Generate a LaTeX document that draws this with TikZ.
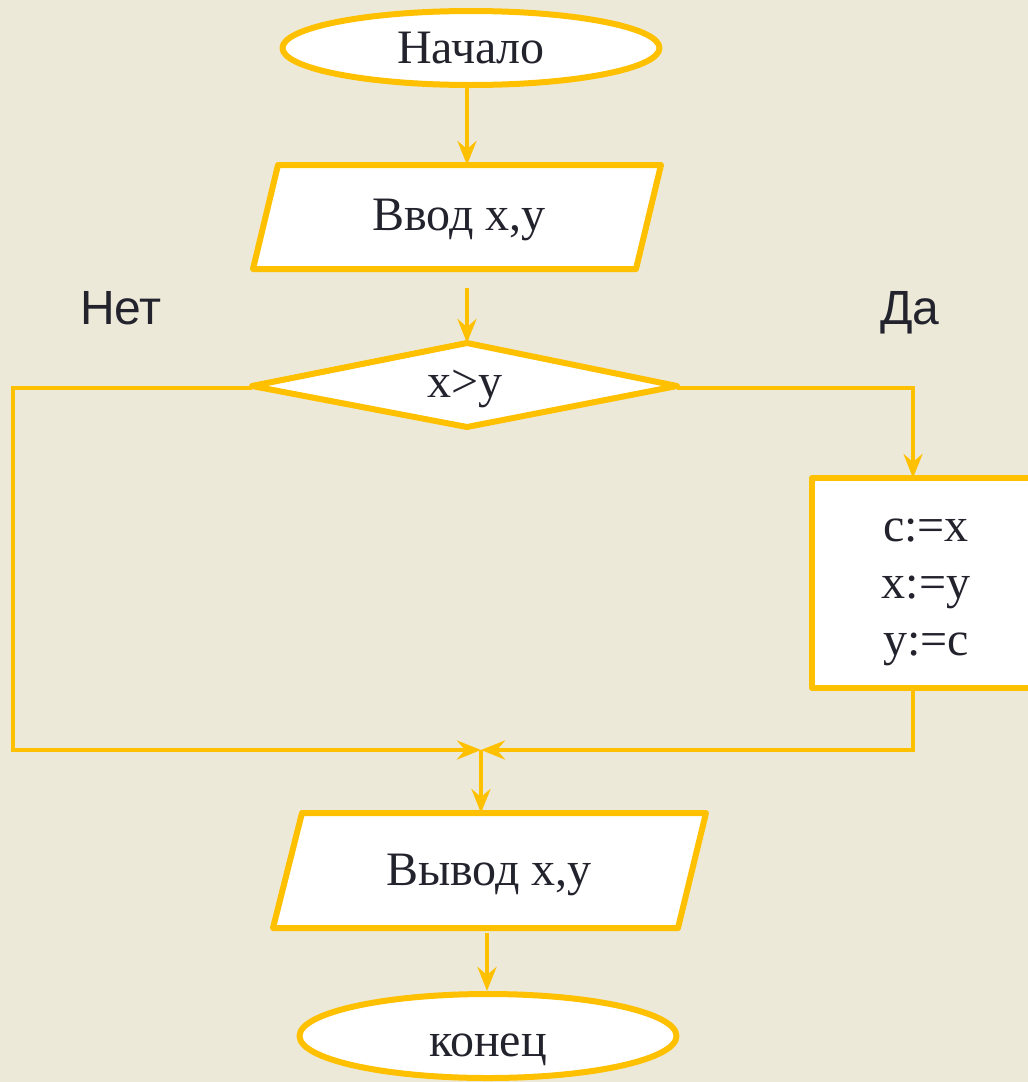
\documentclass[tikz,border=0pt]{standalone}
\usepackage{fontspec}
\setmainfont{Liberation Serif}
\newfontfamily\labfont{Liberation Sans}
\usetikzlibrary{shapes.geometric,arrows.meta}
\definecolor{bgc}{HTML}{ECE9D8}
\definecolor{amb}{HTML}{FFC000}
\definecolor{ink}{HTML}{23232E}
\tikzset{
  blk/.style={draw=amb,line width=6pt,fill=white,line join=round},
  term/.style={blk,ellipse,inner sep=0pt,text=ink,font=\fontsize{48}{56}\selectfont},
  txt/.style={text=ink,font=\fontsize{48}{56}\selectfont,inner sep=0pt},
  lab/.style={text=ink,font=\labfont\fontsize{48}{56}\selectfont,inner sep=0pt,anchor=base west},
  conn/.style={draw=amb,line width=4pt},
  arr/.style={conn,-{Stealth[length=24pt,width=19pt,inset=8pt]}}
}
\begin{document}
\begin{tikzpicture}[x=1pt,y=-1pt]
\fill[bgc] (0,0) rectangle (1028,1082);
\useasboundingbox (0,0) rectangle (1028,1082);

% start
\node[term,minimum width=377pt,minimum height=74pt] (start) at (471,48) {Начало};

% input parallelogram
\path[blk] (278,165) -- (661,165) -- (636,269) -- (253,269) -- cycle;
\node[txt] (in) at (459,220) {Ввод х,у};
\coordinate (inN) at (467,165);
\coordinate (inS) at (467,288);

% decision
\path[blk] (252,386) -- (467,343) -- (677,386) -- (467,427) -- cycle;
\node[txt] (cond) at (465,389) {x>y};
\coordinate (dT) at (467,343);
\coordinate (dL) at (252,388);
\coordinate (dR) at (677,388);

% labels
\node[lab] (net) at (80,324) {Нет};
\node[lab] (da) at (880,324) {Да};

% assignment box
\path[blk] (812,478) rectangle (1045,688);
\node[txt,align=center,font=\fontsize{48}{57}\selectfont] (asg) at (926,592) {c:=x\\x:=y\\y:=c};
\coordinate (bT) at (913,478);
\coordinate (bB) at (913,688);

% merge
\coordinate (m) at (481,750);
\coordinate (cL) at (13,388);
\coordinate (cL2) at (13,750);
\coordinate (cR) at (913,388);
\coordinate (cR2) at (913,750);

% output parallelogram
\path[blk] (302,813) -- (706,813) -- (678,928) -- (273,928) -- cycle;
\node[txt] (out) at (489,875) {Вывод х,у};
\coordinate (outN) at (481,813);
\coordinate (outS) at (487,933);

% end
\node[term,minimum width=377pt,minimum height=84pt,text height=40pt,text depth=0pt] (fin) at (488,1036) {конец};

% connectors
\draw[arr] (start.south -| inN) -- (inN);
\draw[arr] (inS) -- (dT);
\draw[arr] (dR) -- (cR) -- (bT);
\draw[arr] (dL) -- (cL) -- (cL2) -- (m);
\draw[arr] (bB) -- (cR2) -- (m);
\draw[arr] (m) -- (outN);
\draw[arr] (outS) -- (fin.north -| outS);
\end{tikzpicture}
\end{document}
